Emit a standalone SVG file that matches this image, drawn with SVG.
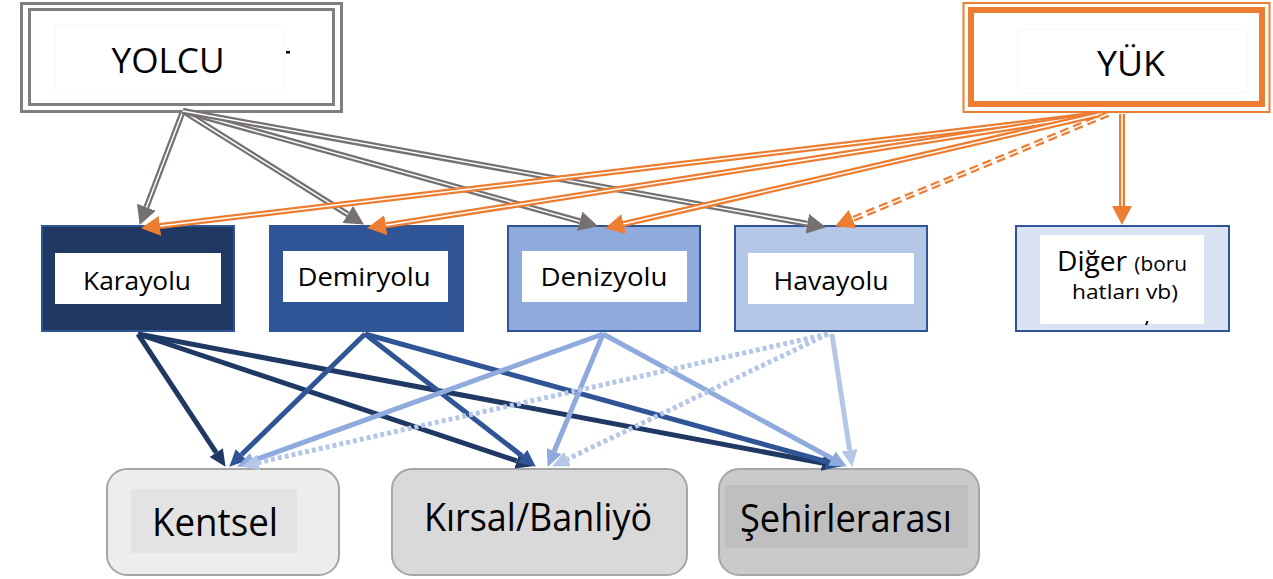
<svg xmlns="http://www.w3.org/2000/svg" width="1273" height="579" viewBox="0 0 1273 579">
<style>
text{font-family:"Open Sans","Liberation Sans",sans-serif;fill:#000;}
.blueBox{stroke:#2f5597;stroke-width:2;}
.inner{fill:#fff;}
.bot{stroke:#a6a6a6;stroke-width:2;}
.g{stroke:#767171;stroke-width:6;fill:none;}
.o{stroke:#ed7d31;stroke-width:6;fill:none;}
.w{stroke:#fff;stroke-width:1.5;fill:none;}
.dash{stroke-dasharray:9 5;}
.b1{stroke:#203864;stroke-width:5;}
.b2{stroke:#2f5597;stroke-width:5;}
.b3{stroke:#8faadc;stroke-width:5;}
.b4{stroke:#b4c7e7;stroke-width:5;}
.dot{stroke-dasharray:4 3;}
</style>
<defs>
<marker id="mg" markerUnits="userSpaceOnUse" markerWidth="20" markerHeight="20" refX="0" refY="10" orient="auto" viewBox="0 0 20 20"><path d="M0,0 L19,10 L0,20 z" fill="#767171"/></marker>
<marker id="mo" markerUnits="userSpaceOnUse" markerWidth="20" markerHeight="20" refX="0" refY="10" orient="auto" viewBox="0 0 20 20"><path d="M0,0 L19,10 L0,20 z" fill="#ed7d31"/></marker>
<marker id="m1" markerUnits="userSpaceOnUse" markerWidth="18" markerHeight="16" refX="0" refY="8" orient="auto" viewBox="0 0 18 16"><path d="M0,0 L17,8 L0,16 z" fill="#203864"/></marker>
<marker id="m2" markerUnits="userSpaceOnUse" markerWidth="18" markerHeight="16" refX="0" refY="8" orient="auto" viewBox="0 0 18 16"><path d="M0,0 L17,8 L0,16 z" fill="#2f5597"/></marker>
<marker id="m3" markerUnits="userSpaceOnUse" markerWidth="18" markerHeight="16" refX="0" refY="8" orient="auto" viewBox="0 0 18 16"><path d="M0,0 L17,8 L0,16 z" fill="#8faadc"/></marker>
<marker id="m4" markerUnits="userSpaceOnUse" markerWidth="18" markerHeight="16" refX="0" refY="8" orient="auto" viewBox="0 0 18 16"><path d="M0,0 L17,8 L0,16 z" fill="#b4c7e7"/></marker>
</defs>
<rect width="1273" height="579" fill="#fff"/>

<g id="yolcu">
<rect x="21.5" y="3.5" width="320" height="108" fill="#fff" stroke="#7f7f7f" stroke-width="3"/>
<rect x="29.5" y="9.5" width="304" height="95" fill="#fff" stroke="#7f7f7f" stroke-width="3"/>
<rect x="55" y="26" width="228" height="65" fill="#fff" stroke="#f7f7f7" stroke-width="1"/>
<text x="168" y="73" font-size="34" text-anchor="middle" textLength="113" lengthAdjust="spacingAndGlyphs">YOLCU</text>
<rect x="286" y="51" width="4" height="2.5" fill="#000"/>
</g>

<g id="yuk">
<rect x="963.5" y="3" width="306" height="109" fill="#fff" stroke="#ed7d31" stroke-width="2"/>
<rect x="971" y="10" width="291" height="94" fill="#fff" stroke="#ed7d31" stroke-width="6"/>
<rect x="1018" y="29" width="229" height="64" fill="#fff" stroke="#f6f6f6" stroke-width="1"/>
<text x="1131" y="76" font-size="34" text-anchor="middle" textLength="68" lengthAdjust="spacingAndGlyphs">YÜK</text>
</g>

<g id="karayolu">
<rect x="42" y="226" width="192" height="105" fill="#203864" class="blueBox"/>
<rect x="55" y="253" width="166" height="51" class="inner"/>
<text x="137" y="290" font-size="26" text-anchor="middle" textLength="108" lengthAdjust="spacingAndGlyphs">Karayolu</text>
</g>
<g id="demiryolu">
<rect x="270" y="226" width="193" height="105" fill="#2f5597" class="blueBox"/>
<rect x="283" y="251" width="165" height="51" class="inner"/>
<text x="364" y="286" font-size="26" text-anchor="middle" textLength="133" lengthAdjust="spacingAndGlyphs">Demiryolu</text>
</g>
<g id="denizyolu">
<rect x="508" y="226" width="192" height="105" fill="#8faadc" class="blueBox"/>
<rect x="522" y="251" width="165" height="51" class="inner"/>
<text x="604" y="286" font-size="26" text-anchor="middle" textLength="127" lengthAdjust="spacingAndGlyphs">Denizyolu</text>
</g>
<g id="havayolu">
<rect x="735" y="226" width="192" height="105" fill="#b4c7e7" class="blueBox"/>
<rect x="748" y="253" width="166" height="51" class="inner"/>
<text x="831" y="290" font-size="26" text-anchor="middle" textLength="115" lengthAdjust="spacingAndGlyphs">Havayolu</text>
</g>
<g id="diger">
<rect x="1016" y="226" width="213" height="105" fill="#dae3f3" class="blueBox"/>
<rect x="1040" y="235" width="164" height="89" class="inner"/>
<text x="1057" y="271" font-size="27" textLength="130" lengthAdjust="spacingAndGlyphs">Diğer <tspan font-size="20">(boru</tspan></text>
<text x="1072" y="299" font-size="20" textLength="106" lengthAdjust="spacingAndGlyphs">hatları vb)</text>
<path d="M1146,325 l1.5,-4" stroke="#000" stroke-width="2"/>
</g>

<g id="kentsel">
<rect x="107" y="469" width="232" height="106" rx="20" fill="#ededed" class="bot"/>
<rect x="131" y="489" width="166" height="64" fill="#e3e3e3"/>
<text x="215" y="536" font-size="38" text-anchor="middle" textLength="126" lengthAdjust="spacingAndGlyphs">Kentsel</text>
</g>
<g id="kirsal">
<rect x="392" y="469" width="295" height="106" rx="20" fill="#d9d9d9" class="bot"/>
<text x="538" y="531" font-size="38" text-anchor="middle" textLength="228" lengthAdjust="spacingAndGlyphs">Kırsal/Banliyö</text>
</g>
<g id="sehirlerarasi">
<rect x="719" y="469" width="260" height="106" rx="20" fill="#cacaca" class="bot"/>
<rect x="725" y="485" width="243" height="63" fill="#bfbfbf"/>
<text x="846" y="532" font-size="38" text-anchor="middle" textLength="212" lengthAdjust="spacingAndGlyphs">Şehirlerarası</text>
</g>

<g id="connectors">
<line class="g" x1="183" y1="111" x2="146.4" y2="207.2" marker-end="url(#mg)"/>
<line class="w" x1="183" y1="111" x2="146.4" y2="207.2"/>
<line class="g" x1="183" y1="111" x2="347.8" y2="214.4" marker-end="url(#mg)"/>
<line class="w" x1="183" y1="111" x2="347.8" y2="214.4"/>
<line class="g" x1="183" y1="111" x2="579.7" y2="221.2" marker-end="url(#mg)"/>
<line class="w" x1="183" y1="111" x2="579.7" y2="221.2"/>
<line class="g" x1="183" y1="111" x2="807.3" y2="223.8" marker-end="url(#mg)"/>
<line class="w" x1="183" y1="111" x2="807.3" y2="223.8"/>
<line class="o" x1="1100" y1="114" x2="159.9" y2="225.9" marker-end="url(#mo)"/>
<line class="w" x1="1100" y1="114" x2="159.9" y2="225.9"/>
<line class="o" x1="1100" y1="114" x2="385.8" y2="225.2" marker-end="url(#mo)"/>
<line class="w" x1="1100" y1="114" x2="385.8" y2="225.2"/>
<line class="o" x1="1100" y1="114" x2="623.5" y2="224" marker-end="url(#mo)"/>
<line class="w" x1="1100" y1="114" x2="623.5" y2="224"/>
<line class="o dash" x1="1108" y1="114" x2="852.6" y2="219.1" marker-end="url(#mo)"/>
<line class="w dash" x1="1108" y1="114" x2="852.6" y2="219.1"/>
<line class="o" x1="1122" y1="114" x2="1122" y2="206" marker-end="url(#mo)"/>
<line class="w" x1="1122" y1="114" x2="1122" y2="206"/>
<line class="b1" x1="138" y1="334" x2="216.2" y2="452.6" marker-end="url(#m1)"/>
<line class="b1" x1="138" y1="334" x2="516.8" y2="460.9" marker-end="url(#m1)"/>
<line class="b1" x1="138" y1="334" x2="822.3" y2="463" marker-end="url(#m1)"/>
<line class="b2" x1="365" y1="334" x2="241.4" y2="454.8" marker-end="url(#m2)"/>
<line class="b2" x1="365" y1="334" x2="522.4" y2="456.2" marker-end="url(#m2)"/>
<line class="b2" x1="365" y1="334" x2="826.6" y2="461.7" marker-end="url(#m2)"/>
<line class="b3" x1="603" y1="334" x2="253" y2="460.6" marker-end="url(#m3)"/>
<line class="b3" x1="603" y1="334" x2="554.2" y2="451.2" marker-end="url(#m3)"/>
<line class="b3" x1="603" y1="334" x2="831.9" y2="458.4" marker-end="url(#m3)"/>
<line class="b4 dot" x1="828" y1="334" x2="258.6" y2="462.5" marker-end="url(#m4)"/>
<line class="b4 dot" x1="828" y1="334" x2="567.4" y2="459.1" marker-end="url(#m4)"/>
<line class="b4" x1="832" y1="334" x2="849.6" y2="450.2" marker-end="url(#m4)"/>
</g>
</svg>
